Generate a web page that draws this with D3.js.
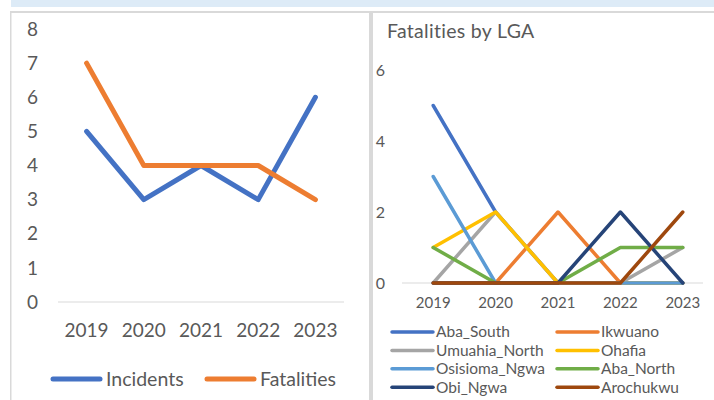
<!DOCTYPE html>
<html>
<head>
<meta charset="utf-8">
<script src="https://cdn.jsdelivr.net/npm/d3@7"></script>
<style>
  body { margin: 0; background: #fff; }
  svg { display: block; font-family: Lato, "Open Sans", sans-serif; }
</style>
</head>
<body>
<svg id="chart" width="714" height="400"></svg>
<script>
// data
var years = ["2019", "2020", "2021", "2022", "2023"];
var incidents = [5, 3, 4, 3, 6];
var fatalities = [7, 4, 4, 4, 3];
var leftTicks = [0, 1, 2, 3, 4, 5, 6, 7, 8];

var lgaNames = ["Aba_South", "Ikwuano", "Umuahia_North", "Ohafia",
                "Osisioma_Ngwa", "Aba_North", "Obi_Ngwa", "Arochukwu"];
var abaSouth     = [5, 2, 0, 0, 0];
var ikwuano      = [0, 0, 2, 0, 0];
var umuahiaNorth = [0, 2, 0, 0, 1];
var ohafia       = [1, 2, 0, 0, 0];
var osisiomaNgwa = [3, 0, 0, 0, 0];
var abaNorth     = [1, 0, 0, 1, 1];
var obiNgwa      = [0, 0, 0, 2, 0];
var arochukwu    = [0, 0, 0, 0, 2];
var rightTicks = [0, 2, 4, 6];

var lgaValues = [abaSouth, ikwuano, umuahiaNorth, ohafia,
                 osisiomaNgwa, abaNorth, obiNgwa, arochukwu];
var lgaColors = ["#4472C4", "#ED7D31", "#A5A5A5", "#FFC000",
                 "#5B9BD5", "#70AD47", "#264478", "#9E480E"];

var svg = d3.select("#chart");
var textColor = "#595959";

// page chrome: blue band on top, panel borders
svg.append("rect").attr("x", 11).attr("y", 0).attr("width", 703).attr("height", 7).attr("fill", "#DDEBF7");
svg.append("rect").attr("x", 10).attr("y", 11).attr("width", 704).attr("height", 2).attr("fill", "#D9D9D9");
svg.append("rect").attr("x", 10).attr("y", 11).attr("width", 1.5).attr("height", 389).attr("fill", "#D9D9D9");
svg.append("rect").attr("x", 369).attr("y", 11).attr("width", 4).attr("height", 389).attr("fill", "#D9D9D9");

// ---------- left chart: incidents vs fatalities ----------
var xL = d3.scaleBand().domain(years).range([58, 344]);
var yL = d3.scaleLinear().domain([0, 8]).range([302, 29]);
var gL = svg.append("g");

gL.append("line")
    .attr("x1", xL.range()[0]).attr("x2", xL.range()[1])
    .attr("y1", yL(0)).attr("y2", yL(0))
    .attr("stroke", "#D9D9D9").attr("stroke-width", 1.2);

gL.selectAll(".ytick").data(leftTicks).enter().append("text")
    .attr("x", 38).attr("y", function (d) { return yL(d); })
    .attr("dy", "0.35em").attr("text-anchor", "end")
    .attr("font-size", 19).attr("fill", textColor)
    .text(function (d) { return d; });

gL.selectAll(".xtick").data(years).enter().append("text")
    .attr("x", function (d) { return xL(d) + xL.bandwidth() / 2; })
    .attr("y", 330).attr("dy", "0.35em").attr("text-anchor", "middle")
    .attr("font-size", 19).attr("fill", textColor)
    .text(function (d) { return d; });

var lineL = d3.line()
    .x(function (d, i) { return xL(years[i]) + xL.bandwidth() / 2; })
    .y(function (d) { return yL(d); });

var leftSeries = [
    {name: "Incidents", values: incidents, color: "#4472C4"},
    {name: "Fatalities", values: fatalities, color: "#ED7D31"}
];

gL.selectAll(".series").data(leftSeries).enter().append("path")
    .attr("d", function (d) { return lineL(d.values); })
    .attr("fill", "none")
    .attr("stroke", function (d) { return d.color; })
    .attr("stroke-width", 5)
    .attr("stroke-linejoin", "round")
    .attr("stroke-linecap", "round");

var legL = gL.selectAll(".leg").data(leftSeries).enter().append("g")
    .attr("transform", function (d, i) { return "translate(" + (53 + i * 154) + ",379)"; });
legL.append("line").attr("x1", 0).attr("x2", 47)
    .attr("stroke", function (d) { return d.color; })
    .attr("stroke-width", 5).attr("stroke-linecap", "round");
legL.append("text").attr("x", 53).attr("dy", "0.35em")
    .attr("font-size", 19.5).attr("fill", textColor)
    .text(function (d) { return d.name; });

// ---------- right chart: fatalities by LGA ----------
var xR = d3.scaleBand().domain(years).range([402, 714]);
var yR = d3.scaleLinear().domain([0, 6]).range([283, 70]);
var gR = svg.append("g");

gR.append("text").attr("x", 387).attr("y", 38)
    .attr("font-size", 19.5).attr("letter-spacing", 0.3).attr("fill", textColor)
    .text("Fatalities by LGA");

gR.append("line")
    .attr("x1", xR.range()[0]).attr("x2", xR.range()[1] - 11)
    .attr("y1", yR(0)).attr("y2", yR(0))
    .attr("stroke", "#D9D9D9").attr("stroke-width", 1.2);

gR.selectAll(".ytick").data(rightTicks).enter().append("text")
    .attr("x", 385).attr("y", function (d) { return yR(d); })
    .attr("dy", "0.35em").attr("text-anchor", "end")
    .attr("font-size", 16).attr("fill", textColor)
    .text(function (d) { return d; });

gR.selectAll(".xtick").data(years).enter().append("text")
    .attr("x", function (d) { return xR(d) + xR.bandwidth() / 2; })
    .attr("y", 303).attr("dy", "0.35em").attr("text-anchor", "middle")
    .attr("font-size", 15).attr("fill", textColor)
    .text(function (d) { return d; });

var lineR = d3.line()
    .x(function (d, i) { return xR(years[i]) + xR.bandwidth() / 2; })
    .y(function (d) { return yR(d); });

gR.selectAll(".series").data(lgaValues).enter().append("path")
    .attr("d", function (d) { return lineR(d); })
    .attr("fill", "none")
    .attr("stroke", function (d, i) { return lgaColors[i]; })
    .attr("stroke-width", 3.5)
    .attr("stroke-linejoin", "round")
    .attr("stroke-linecap", "round");

var legR = gR.selectAll(".leg").data(lgaNames).enter().append("g")
    .attr("transform", function (d, i) {
        return "translate(" + (392 + (i % 2) * 165) + "," + (332 + Math.floor(i / 2) * 18.4) + ")";
    });
legR.append("line").attr("x1", 0).attr("x2", 41)
    .attr("stroke", function (d, i) { return lgaColors[i]; })
    .attr("stroke-width", 3.5).attr("stroke-linecap", "round");
legR.append("text").attr("x", 44).attr("dy", "0.35em")
    .attr("font-size", 15.5).attr("fill", textColor)
    .text(function (d) { return d; });
</script>
</body>
</html>
